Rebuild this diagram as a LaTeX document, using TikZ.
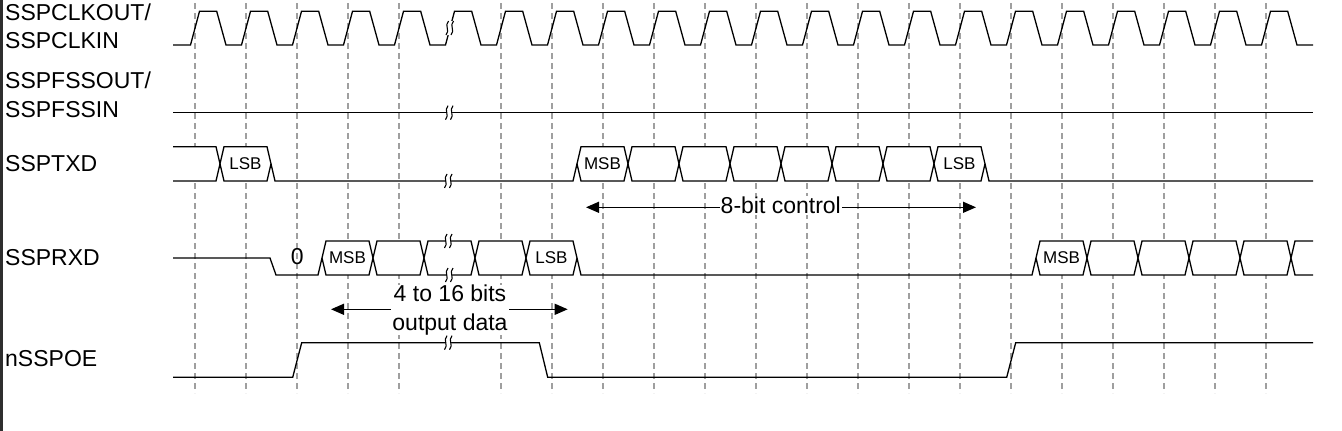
\documentclass[tikz,border=0pt]{standalone}
\usepackage{fontspec}
\setmainfont{Liberation Sans}
\usetikzlibrary{arrows.meta}

\tikzset{
  sig/.style={line width=1.3pt},
  hexcell/.style={draw, fill=white, line width=1.3pt},
  clkguide/.style={gray!75, line width=1.2pt, dash pattern=on 6pt off 4pt},
  brkline/.style={line width=1.1pt},
  sigfont/.style={font=\fontsize{23}{28}\selectfont, anchor=base west, inner sep=0pt},
  cellfont/.style={font=\fontsize{17}{20}\selectfont, inner sep=0pt},
  dimarrow/.style={line width=1.3pt, {Triangle[length=13pt,width=11pt]}-{Triangle[length=13pt,width=11pt]}},
}

% break mark on a line, centred at (#1,#2)
\newcommand{\lnbrk}[2]{%
  \fill[white] ({#1-3},{#2+7}) -- ({#1+2},{#2+7}) -- ({#1+4},{#2-7}) -- ({#1-1},{#2-7}) -- cycle;
  \draw[brkline] ({#1-3.5},{#2+7}) .. controls ({#1+1},{#2+2}) and ({#1-5.5},{#2-2}) .. ({#1-1},{#2-7});
  \draw[brkline] ({#1+1.5},{#2+7}) .. controls ({#1+6},{#2+2}) and ({#1-0.5},{#2-2}) .. ({#1+4},{#2-7});
}

\begin{document}
\begin{tikzpicture}[x=1pt,y=-1pt]
    \useasboundingbox (0,0) rectangle (1342,431);
    \fill[black!82] (0,0) rectangle (2.5,431);

    % clock guides
    \foreach \k in {0,...,4,6,7,...,21}
        \draw[clkguide] ({195+51*\k},3) -- ({195+51*\k},393);

    % signal names
    \node[sigfont] (lblclkA) at (5,20) {SSPCLKOUT/};
    \node[sigfont] (lblclkB) at (5,48) {SSPCLKIN};
    \node[sigfont] (lblfssA) at (5,88) {SSPFSSOUT/};
    \node[sigfont] (lblfssB) at (5,117) {SSPFSSIN};
    \node[sigfont] (lbltx) at (5,171) {SSPTXD};
    \node[sigfont] (lblrx) at (5,265) {SSPRXD};
    \node[sigfont] (lbloe) at (5,366) {nSSPOE};

    % SSPCLK
    \draw[sig] (173,45) foreach \k in {0,...,21} {
        -- ({190.5+51*\k},45) -- ({199.5+51*\k},11.3) -- ({216.7+51*\k},11.3) -- ({226+51*\k},45)
    } -- (1313,45);
    \lnbrk{449.5}{28}

    % SSPFSS
    \draw[sig] (173,112.7) -- (1313,112.7);
    \lnbrk{449}{112.7}

    % SSPTXD
    \draw[hexcell] (173,146.7) -- (216,146.7) -- (220,163.85) -- (216,181) -- (173,181);
    \draw[sig] (271,163.85) -- (275,181) -- (573,181) -- (577,163.85);
    \draw[sig] (985,163.85) -- (989,181) -- (1313,181);
    \foreach \k in {0,7,8,...,14} {
        \pgfmathsetmacro{\xa}{220+51*\k}
        \pgfmathsetmacro{\xb}{\xa+51}
        \draw[hexcell] (\xa,163.85) -- (\xa+4,146.7) -- (\xb-4,146.7) -- (\xb,163.85) -- (\xb-4,181) -- (\xa+4,181) -- cycle;
    }
    \lnbrk{448}{181}
    \node[cellfont] (txlsbA) at (245.5,163.85) {LSB};
    \node[cellfont] (txmsb) at (602.5,163.85) {MSB};
    \node[cellfont] (txlsbB) at (959.5,163.85) {LSB};

    % 8-bit control
    \coordinate (ctlL) at (586,207.3);
    \coordinate (ctlR) at (976,207.3);
    \draw[dimarrow] (ctlL) -- (ctlR);
    \node[font=\fontsize{23}{28}\selectfont, fill=white, inner xsep=1pt, inner ysep=1pt, anchor=base] (ctllbl) at (780.8,213.3) {8-bit control};

    % SSPRXD
    \draw[sig] (173,258) -- (270,258) -- (276,275) -- (318,275) -- (322,258);
    \draw[sig] (577,258) -- (581,275) -- (1032,275) -- (1036,258);
    \foreach \k in {2,...,6,16,17,...,20} {
        \pgfmathsetmacro{\xa}{220+51*\k}
        \pgfmathsetmacro{\xb}{\xa+51}
        \draw[hexcell] (\xa,258) -- (\xa+4,241) -- (\xb-4,241) -- (\xb,258) -- (\xb-4,275) -- (\xa+4,275) -- cycle;
    }
    \draw[hexcell] (1313,241) -- (1295,241) -- (1291,258) -- (1295,275) -- (1313,275);
    \lnbrk{448}{241}
    \lnbrk{449}{275}
    \node[font=\fontsize{23}{28}\selectfont, inner sep=0pt, anchor=base] (rxzero) at (297.3,264.3) {0};
    \node[cellfont] (rxmsbA) at (347.5,258) {MSB};
    \node[cellfont] (rxlsb) at (551.5,258) {LSB};
    \node[cellfont] (rxmsbB) at (1061.5,258) {MSB};

    % 4 to 16 bits
    \coordinate (datL) at (331,309.3);
    \coordinate (datR) at (567.7,309.3);
    \draw[dimarrow] (datL) -- (datR);
    \node[font=\fontsize{23}{28.3}\selectfont, align=center, fill=white, inner xsep=1pt, inner ysep=0pt] (datlbl) at (450,310) {4 to 16 bits\\output data};

    % nSSPOE
    \draw[sig] (173,377.3) -- (292.7,377.3) -- (301.7,342.7) -- (539.3,342.7) -- (547.7,377.3)
        -- (1006.7,377.3) -- (1015.7,342.7) -- (1313,342.7);
    \lnbrk{448}{342.7}
\end{tikzpicture}
\end{document}
